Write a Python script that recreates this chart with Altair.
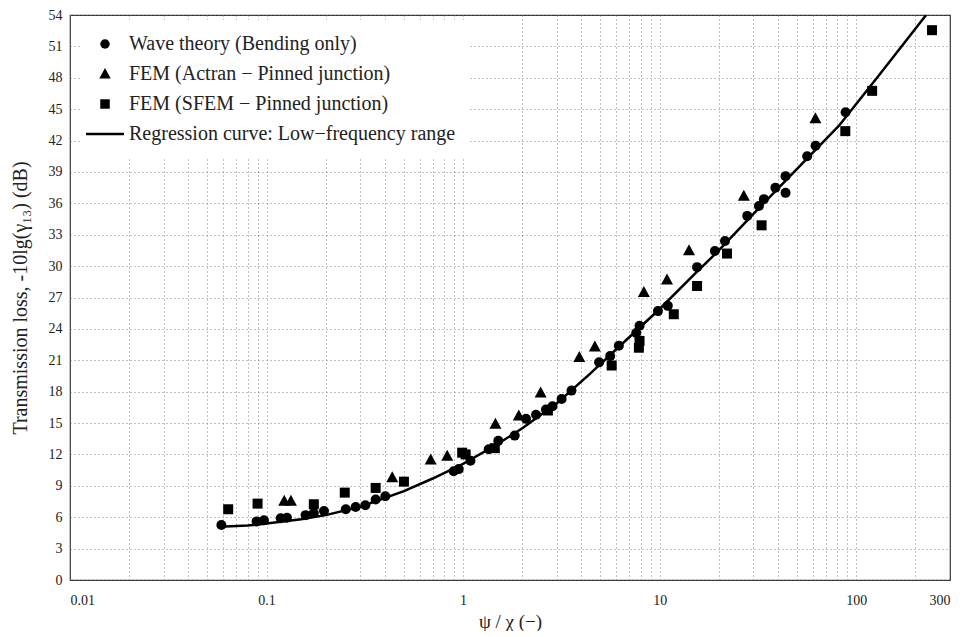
import altair as alt
import pandas as pd

# ---- data ----
wave_x = [0.0589, 0.089, 0.097, 0.118, 0.127, 0.158, 0.174, 0.196, 0.253, 0.284, 0.318,
          0.359, 0.402, 0.895, 0.95, 1.09, 1.35, 1.51, 1.83, 2.09, 2.35, 2.64, 2.85, 3.17,
          3.56, 4.92, 5.6, 6.2, 7.6, 7.9, 9.8, 11.0, 15.5, 19.1, 21.5, 27.9, 32.0, 33.9,
          38.8, 43.7, 43.7, 56.3, 62.1, 88.3]
wave_y = [5.26, 5.6, 5.7, 5.9, 5.95, 6.2, 6.4, 6.6, 6.76, 6.98, 7.14,
          7.7, 8.0, 10.4, 10.6, 11.4, 12.5, 13.3, 13.8, 15.4, 15.8, 16.3, 16.6, 17.3,
          18.1, 20.8, 21.4, 22.4, 23.6, 24.3, 25.7, 26.2, 29.9, 31.45, 32.4, 34.8, 35.75, 36.4,
          37.5, 37.0, 38.6, 40.5, 41.5, 44.7]

actran_x = [0.123, 0.133, 0.436, 0.684, 0.83, 1.46, 1.92, 2.48, 3.9, 4.68, 8.31, 10.9,
            14.1, 26.8, 62.0]
actran_y = [7.55, 7.55, 9.8, 11.5, 11.85, 14.9, 15.7, 17.9, 21.3, 22.3, 27.5, 28.7,
            31.5, 36.7, 44.1]

sfem_x = [0.0638, 0.090, 0.174, 0.250, 0.359, 0.50, 0.989, 1.03, 1.45, 2.7, 5.7, 7.84,
          7.9, 11.8, 15.5, 22.0, 33.0, 88.0, 120.5, 243.0]
sfem_y = [6.76, 7.3, 7.24, 8.35, 8.8, 9.4, 12.17, 12.0, 12.6, 16.2, 20.5, 22.2,
          22.85, 25.4, 28.1, 31.2, 33.9, 42.9, 46.75, 52.55]

curve_x = [0.058, 0.08, 0.1, 0.15, 0.2, 0.3, 0.5, 0.7, 1.0, 1.5, 2.0, 3.0, 4.36, 7.0,
           10.0, 15.0, 20.0, 30.0, 50.0, 81.5, 130.0, 226.8]
curve_y = [5.1, 5.2, 5.4, 5.8, 6.2, 7.0, 8.5, 9.7, 11.1, 13.0, 14.5, 16.9, 19.6, 23.2,
           25.9, 29.2, 31.5, 35.0, 39.3, 43.4, 48.2, 54.0]

series_names = ["Wave theory (Bending only)",
                "FEM (Actran \u2212 Pinned junction)",
                "FEM (SFEM \u2212 Pinned junction)",
                "Regression curve: Low\u2212frequency range"]

x_ticks = [0.01, 0.02, 0.03, 0.04, 0.05, 0.06, 0.07, 0.08, 0.09,
           0.1, 0.2, 0.3, 0.4, 0.5, 0.6, 0.7, 0.8, 0.9,
           1, 2, 3, 4, 5, 6, 7, 8, 9,
           10, 20, 30, 40, 50, 60, 70, 80, 90,
           100, 200, 300]
x_labels = [0.01, 0.1, 1, 10, 100, 300]
y_ticks = [0, 3, 6, 9, 12, 15, 18, 21, 24, 27, 30, 33, 36, 39, 42, 45, 48, 51, 54]

pts = pd.concat([
    pd.DataFrame({"x": wave_x, "y": wave_y, "series": series_names[0]}),
    pd.DataFrame({"x": actran_x, "y": actran_y, "series": series_names[1]}),
    pd.DataFrame({"x": sfem_x, "y": sfem_y, "series": series_names[2]}),
], ignore_index=True)
curve = pd.DataFrame({"x": curve_x, "y": curve_y})

FONT = "Liberation Serif"
xscale = alt.Scale(type="log", domain=[0.01, 300], nice=False)
yscale = alt.Scale(domain=[0, 54], nice=False)

label_expr = "indexof(" + str(x_labels) + ", datum.value) >= 0 ? format(datum.value, '~g') : ''"

xaxis = alt.Axis(values=x_ticks, labelExpr=label_expr, labelOverlap=False,
                 grid=True, gridDash=[1, 3], gridColor="#666", gridWidth=0.8,
                 ticks=False, domain=False, labelFont=FONT, labelFontSize=14,
                 labelColor="#222", labelPadding=13,
                 title="\u03c8 / \u03c7 (\u2212)", titleFont=FONT, titleFontSize=19,
                 titleFontWeight="normal", titleColor="#222", titlePadding=5)
yaxis = alt.Axis(values=y_ticks, grid=True, gridDash=[1, 3], gridColor="#666",
                 gridWidth=0.8, ticks=False, domain=False, labelFont=FONT,
                 labelFontSize=14, labelColor="#222", labelPadding=8,
                 title="Transmission loss, -10lg(\u03b3\u2081\u2083) (dB)",
                 titleFont=FONT, titleFontSize=20, titleFontWeight="normal",
                 titleColor="#222", titlePadding=18)

shape_range = ["circle", "M0,-1.25L1.2,0.95L-1.2,0.95Z", "square",
               "M-4,-0.25L4,-0.25L4,0.25L-4,0.25Z"]

points = alt.Chart(pts).mark_point(filled=True, color="black", opacity=1, size=100).encode(
    x=alt.X("x:Q", scale=xscale, axis=xaxis),
    y=alt.Y("y:Q", scale=yscale, axis=yaxis),
    shape=alt.Shape("series:N",
                    scale=alt.Scale(domain=series_names, range=shape_range),
                    legend=alt.Legend(title=None, orient="none", legendX=11, legendY=5,
                                      padding=14, fillColor="white",
                                      labelFont=FONT, labelFontSize=20, labelColor="#222",
                                      symbolSize=90, symbolFillColor="black",
                                      symbolStrokeWidth=0, rowPadding=10,
                                      labelOffset=14, labelLimit=500)),
)

line = alt.Chart(curve).mark_line(color="black", strokeWidth=2.5, clip=True).encode(
    x=alt.X("x:Q", scale=xscale, axis=xaxis),
    y=alt.Y("y:Q", scale=yscale, axis=yaxis),
    order=alt.Order("x:Q"),
)

chart = alt.layer(line, points).properties(
    width=880, height=565,
    padding={"left": 2, "top": 0, "right": 10, "bottom": 0},
).configure(background="white").configure_view(stroke="#333", strokeWidth=1.2)

chart.save("out.html", embed_options={"renderer": "svg", "actions": False})
